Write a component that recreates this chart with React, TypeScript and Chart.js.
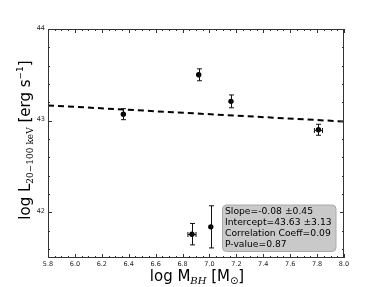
import React, { useEffect, useRef } from "react";
import { Chart, registerables } from "chart.js";

Chart.register(...registerables);

const logM = [6.36, 6.92, 7.16, 7.81, 7.01, 6.87];
const logL = [43.07, 43.5, 43.21, 42.9, 41.84, 41.76];
const yErr = [0.06, 0.065, 0.07, 0.06, 0.23, 0.117];
const xErr = [0.0, 0.0, 0.0, 0.03, 0.0, 0.03];
const fitX = [5.8, 8.0];
const fitY = [43.166, 42.99];
const xTicks = [5.8, 6.0, 6.2, 6.4, 6.6, 6.8, 7.0, 7.2, 7.4, 7.6, 7.8, 8.0];
const yTicks = [42, 43, 44];
const statLines = [
  "Slope=-0.08 \u00b10.45",
  "Intercept=43.63 \u00b13.13",
  "Correlation Coeff=0.09",
  "P-value=0.87",
];

type Seg = { t: string; font: string; dy: number };

function drawSegs(ctx: CanvasRenderingContext2D, segs: Seg[], cx: number, cy: number) {
  let total = 0;
  const widths = segs.map((s) => {
    ctx.font = s.font;
    const w = ctx.measureText(s.t).width;
    total += w;
    return w;
  });
  let x = cx - total / 2;
  ctx.textBaseline = "alphabetic";
  ctx.textAlign = "left";
  segs.forEach((s, i) => {
    ctx.font = s.font;
    ctx.fillText(s.t, x, cy + s.dy);
    x += widths[i];
  });
}

const decor = {
  id: "decor",
  afterDatasetsDraw(chart: any) {
    const ctx: CanvasRenderingContext2D = chart.ctx;
    const xs = chart.scales.x;
    const ys = chart.scales.y;
    const a = chart.chartArea;
    ctx.save();
    // error bars
    ctx.strokeStyle = "#111";
    ctx.lineWidth = 1;
    for (let i = 0; i < logM.length; i++) {
      const px = Math.round(xs.getPixelForValue(logM[i])) + 0.5;
      const py = Math.round(ys.getPixelForValue(logL[i])) + 0.5;
      const y1 = ys.getPixelForValue(logL[i] + yErr[i]);
      const y2 = ys.getPixelForValue(logL[i] - yErr[i]);
      ctx.beginPath();
      ctx.moveTo(px, y1);
      ctx.lineTo(px, y2);
      ctx.moveTo(px - 2.5, y1);
      ctx.lineTo(px + 2.5, y1);
      ctx.moveTo(px - 2.5, y2);
      ctx.lineTo(px + 2.5, y2);
      if (xErr[i] > 0) {
        const x1 = xs.getPixelForValue(logM[i] - xErr[i]);
        const x2 = xs.getPixelForValue(logM[i] + xErr[i]);
        ctx.moveTo(x1, py);
        ctx.lineTo(x2, py);
        ctx.moveTo(x1, py - 2.5);
        ctx.lineTo(x1, py + 2.5);
        ctx.moveTo(x2, py - 2.5);
        ctx.lineTo(x2, py + 2.5);
      }
      ctx.stroke();
    }
    // frame
    ctx.strokeStyle = "#333";
    ctx.lineWidth = 1;
    ctx.strokeRect(a.left + 0.5, a.top + 0.5, a.right - a.left - 1, a.bottom - a.top - 1);
    // ticks
    ctx.beginPath();
    for (let v = 5.8; v <= 8.0001; v += 0.05) {
      const px = Math.round(xs.getPixelForValue(v)) + 0.5;
      const major = Math.abs(v * 5 - Math.round(v * 5)) < 0.01;
      const len = major ? 4 : 2;
      ctx.moveTo(px, a.bottom);
      ctx.lineTo(px, a.bottom - len);
      ctx.moveTo(px, a.top);
      ctx.lineTo(px, a.top + len);
    }
    for (let v = 41.6; v <= 44.0001; v += 0.2) {
      const py = Math.round(ys.getPixelForValue(v)) + 0.5;
      const major = Math.abs(v - Math.round(v)) < 0.01;
      const len = major ? 4 : 2;
      ctx.moveTo(a.left, py);
      ctx.lineTo(a.left + len, py);
      ctx.moveTo(a.right, py);
      ctx.lineTo(a.right - len, py);
    }
    ctx.stroke();
    // tick labels
    ctx.fillStyle = "#222";
    ctx.font = "6.5px 'DejaVu Sans'";
    ctx.textAlign = "center";
    ctx.textBaseline = "top";
    xTicks.forEach((v) => {
      ctx.fillText(v.toFixed(1), xs.getPixelForValue(v), a.bottom + 3);
    });
    ctx.textAlign = "right";
    ctx.textBaseline = "middle";
    yTicks.forEach((v) => {
      ctx.fillText(String(v), a.left - 3, ys.getPixelForValue(v) - 1);
    });
    // stats box
    const bx = 222.5, by = 205, bw = 113.5, bh = 46.5, r = 4;
    ctx.fillStyle = "rgba(192,192,192,0.85)";
    ctx.strokeStyle = "#aaa";
    ctx.beginPath();
    ctx.moveTo(bx + r, by);
    ctx.arcTo(bx + bw, by, bx + bw, by + bh, r);
    ctx.arcTo(bx + bw, by + bh, bx, by + bh, r);
    ctx.arcTo(bx, by + bh, bx, by, r);
    ctx.arcTo(bx, by, bx + bw, by, r);
    ctx.closePath();
    ctx.fill();
    ctx.stroke();
    ctx.fillStyle = "#000";
    ctx.font = "9.2px 'DejaVu Sans'";
    ctx.textAlign = "left";
    ctx.textBaseline = "middle";
    statLines.forEach((s, i) => ctx.fillText(s, bx + 2.5, by + 6.9 + i * 10.9));
    // axis titles
    const big = "15px 'DejaVu Sans'";
    drawSegs(
      ctx,
      [
        { t: "log M", font: big, dy: 0 },
        { t: "BH", font: "italic 10px 'DejaVu Serif'", dy: 3 },
        { t: " [M", font: big, dy: 0 },
        { t: "\u2299", font: "10px 'DejaVu Sans'", dy: 3 },
        { t: "]", font: big, dy: 0 },
      ],
      197,
      281
    );
    ctx.save();
    ctx.translate(30, 140);
    ctx.rotate(-Math.PI / 2);
    drawSegs(
      ctx,
      [
        { t: "log L", font: big, dy: 0 },
        { t: "20\u2212100 keV", font: "9px 'DejaVu Serif'", dy: 3 },
        { t: " [erg s", font: big, dy: 0 },
        { t: "\u22121", font: "9px 'DejaVu Sans'", dy: -7 },
        { t: "]", font: big, dy: 0 },
      ],
      0,
      0
    );
    ctx.restore();
    ctx.restore();
  },
};

export default function App() {
  const ref = useRef<HTMLCanvasElement>(null);
  useEffect(() => {
    if (!ref.current) return;
    const chart = new Chart(ref.current, {
      type: "scatter",
      data: {
        datasets: [
          {
            type: "line",
            data: fitX.map((x, i) => ({ x, y: fitY[i] })),
            borderColor: "#000",
            borderWidth: 2,
            borderDash: [6, 4],
            pointRadius: 0,
            fill: false,
          } as any,
          {
            data: logM.map((x, i) => ({ x, y: logL[i] })),
            backgroundColor: "#000",
            borderColor: "#000",
            borderWidth: 0,
            pointRadius: 2.7,
          },
        ],
      },
      options: {
        responsive: false,
        animation: false,
        layout: { padding: { left: 48, right: 38, top: 29, bottom: 29 } },
        plugins: { legend: { display: false }, tooltip: { enabled: false } },
        scales: {
          x: { type: "linear", min: 5.8, max: 8.0, display: false },
          y: { type: "linear", min: 41.5, max: 44.0, display: false },
        },
      },
      plugins: [decor],
    });
    return () => chart.destroy();
  }, []);
  return (
    <div style={{ position: "absolute", left: 0, top: 0, width: 382, height: 287, background: "#fff" }}>
      <canvas ref={ref} width={382} height={287} style={{ width: 382, height: 287 }} />
    </div>
  );
}
